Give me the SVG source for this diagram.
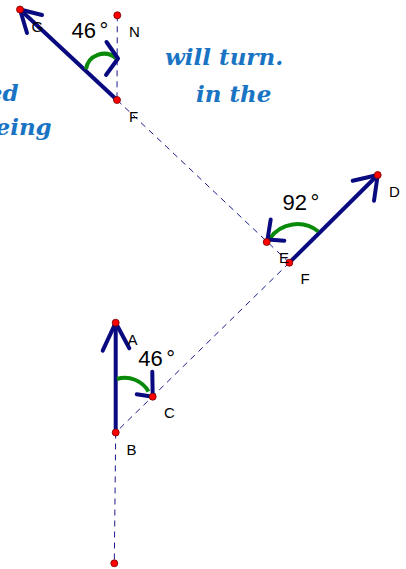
<svg xmlns="http://www.w3.org/2000/svg" width="406" height="569" viewBox="0 0 406 569">
<style>
.dash{stroke:#1a1a8c;stroke-width:1;stroke-dasharray:6 5;fill:none}
.vec{stroke:#0a0a80;stroke-width:4;fill:none;stroke-linecap:round;stroke-linejoin:round}
.arc{stroke:#0a8a0a;stroke-width:4;fill:none}
.pt{fill:#ff0000;stroke:#700000;stroke-width:0.8}
.lbl{font-family:"Liberation Sans",Arial,sans-serif;font-size:15px;fill:#000}
.ang{font-family:"Liberation Sans",Arial,sans-serif;font-size:22px;fill:#000}
.txt{font-family:"DejaVu Serif",serif;font-style:italic;font-weight:bold;font-size:23px;fill:#1a74c4}
</style>
<rect width="406" height="569" fill="#fff"/>
<g id="text">
<text class="txt" x="165" y="65">will turn.</text>
<text class="txt" x="196" y="101.7">in the</text>
<text class="txt" x="18.5" y="100.7" text-anchor="end">ed</text>
<text class="txt" x="51.7" y="135" text-anchor="end">eing</text>
</g>
<g id="connectors">
<line class="dash" x1="117.3" y1="15.3" x2="117" y2="100"/>
<line class="dash" x1="117" y1="100" x2="289.3" y2="262.7"/>
<line class="dash" x1="289.3" y1="262.7" x2="115.7" y2="432.5"/>
<line class="dash" x1="115.7" y1="432.5" x2="114.3" y2="563.3"/>
</g>
<g id="vector-FG">
<line class="vec" x1="117" y1="100" x2="20" y2="9.5"/>
<polyline class="vec" points="42,15 20,9.5 27,33"/>
</g>
<g id="vector-FD">
<line class="vec" x1="289.3" y1="262.7" x2="377.7" y2="175"/>
<polyline class="vec" points="352.7,180.7 377.7,175 374,200.7"/>
</g>
<g id="vector-BA">
<line class="vec" x1="115.7" y1="432.5" x2="115.7" y2="322.7"/>
<polyline class="vec" points="102.7,350.7 115.7,322.7 129.3,348.3"/>
</g>
<g id="angle-GFN">
<path class="arc" d="M86,69.3 A18.2,18.2 0 0 1 116,58.3"/>
<polyline class="vec" points="106.5,42 118,58.5 106,75"/>
<text class="ang" x="71.5" y="38.3">46<tspan dx="3.5">°</tspan></text>
</g>
<g id="angle-DFE">
<path class="arc" d="M318.3,231.5 A33.5,33.5 0 0 0 270,238.3"/>
<polyline class="vec" points="270.7,219.5 267.5,239.5 284.3,240.7"/>
<text class="ang" x="282.5" y="210">92<tspan dx="3.5">°</tspan></text>
</g>
<g id="angle-ABC">
<path class="arc" d="M117,379 A27.2,27.2 0 0 1 148.5,391.5"/>
<polyline class="vec" points="152.3,371.7 152.7,396.7 136.7,394.3"/>
<text class="ang" x="138.3" y="365.5">46<tspan dx="3.5">°</tspan></text>
</g>
<g id="points">
<circle class="pt" cx="20" cy="9.5" r="3.5"/>
<circle class="pt" cx="117.3" cy="15.3" r="3.5"/>
<circle class="pt" cx="117" cy="100" r="3.5"/>
<circle class="pt" cx="377.7" cy="175" r="3.5"/>
<circle class="pt" cx="266.7" cy="242" r="3.5"/>
<circle class="pt" cx="289.3" cy="262.7" r="3.5"/>
<circle class="pt" cx="115.7" cy="322.7" r="3.5"/>
<circle class="pt" cx="152.7" cy="396.7" r="3.5"/>
<circle class="pt" cx="115.7" cy="432.5" r="3.5"/>
<circle class="pt" cx="114.3" cy="563.3" r="3.5"/>
</g>
<g id="labels">
<text class="lbl" x="31.5" y="31.7">G</text>
<text class="lbl" x="129" y="36.7">N</text>
<text class="lbl" x="129" y="121.7">F</text>
<text class="lbl" x="389" y="196.7">D</text>
<text class="lbl" x="279" y="263.3">E</text>
<text class="lbl" x="300.5" y="284">F</text>
<text class="lbl" x="127.5" y="345">A</text>
<text class="lbl" x="164" y="418.3">C</text>
<text class="lbl" x="126.5" y="455">B</text>
</g>
</svg>
